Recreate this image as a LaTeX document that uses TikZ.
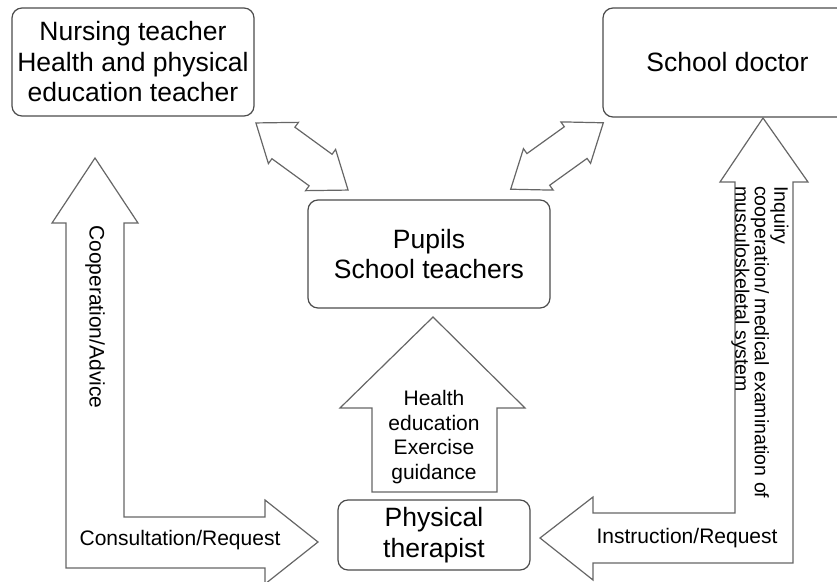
\documentclass[tikz,border=0pt]{standalone}
\usepackage{fontspec}
\setmainfont{Liberation Sans}
\usetikzlibrary{calc}
\tikzset{
  box/.style={draw=black!70, line width=1.2pt, rounded corners=10pt, align=center, inner sep=2pt,
    font=\fontsize{26.5}{30.5}\selectfont},
  blk/.style={draw=black!60, line width=1.2pt, fill=white},
  lbl/.style={font=\fontsize{21}{24.5}\selectfont, align=center, inner sep=1pt},
  twoway/.pic={
    \draw[blk] (-57,0) -- (-23,25.5) -- (-23,19.5) -- (23,19.5) -- (23,25.5) -- (57,0)
      -- (23,-25.5) -- (23,-19.5) -- (-23,-19.5) -- (-23,-25.5) -- cycle;
  }
}
\begin{document}
\begin{tikzpicture}[x=1pt, y=1pt]
    \useasboundingbox (0,0) rectangle (837,-581);
    \clip (0,0) rectangle (837,-581);
    \node[box, minimum width=242, minimum height=108] (nurse) at (133,-62) {Nursing teacher\\Health and physical\\education teacher};
    \node[box, minimum width=249, minimum height=109] (doctor) at (727.5,-62.5) {School doctor};
    \node[box, minimum width=242, minimum height=108] (pupils) at (429,-254) {Pupils\\School teachers};
    \node[box, minimum width=192, minimum height=70] (pt) at (434,-535) {Physical\\therapist};
    % two-way arrows
    \coordinate (a1) at (256,-123);
    \coordinate (a2) at (348,-190);
    \coordinate (b1) at (511,-189);
    \coordinate (b2) at (603,-123);
    \path (a1) -- (a2) pic[pos=0.5, sloped] {twoway};
    \path (b1) -- (b2) pic[pos=0.5, sloped] {twoway};
    % health education arrow
    \coordinate (ht) at (433,-317);
    \coordinate (hb) at (433,-492);
    \draw[blk] (ht) -- ++(92,-91) -- ++(-28,0) -- ($(hb)+(64,0)$) -- ($(hb)+(-61,0)$) -- ++(0,84) -- ++(-32,0) -- cycle;
    \node[lbl] (he) at (434,-437) {Health\\education\\Exercise\\guidance};
    % left L arrow
    \coordinate (lt) at (95,-158);
    \coordinate (lr) at (318,-542);
    \draw[blk] (lt) -- (138,-223) -- (124,-223) -- (124,-517) -- (265,-517) -- (265,-500) -- (lr)
      -- (265,-584) -- (265,-568) -- (66,-568) -- (66,-223) -- (52,-223) -- cycle;
    % right L arrow
    \coordinate (rt) at (763,-118);
    \coordinate (rl) at (540,-538);
    \draw[blk] (rt) -- (808,-182) -- (793,-182) -- (793,-563) -- (593,-563) -- (593,-580) -- (rl)
      -- (593,-497) -- (593,-513) -- (735,-513) -- (735,-182) -- (720,-182) -- cycle;
    \node[lbl, rotate=-90, anchor=west] (coop) at (95,-224) {Cooperation/Advice};
    \node[lbl] (cons) at (180,-540) {Consultation/Request};
    \node[lbl] (instr) at (687,-538) {Instruction/Request};
    \node[lbl, font=\fontsize{19.5}{19.5}\selectfont, rotate=-90, anchor=west, align=left] (inq) at (760,-185)
      {Inquiry\\cooperation/ medical examination of\\musculoskeletal system};
\end{tikzpicture}
\end{document}
